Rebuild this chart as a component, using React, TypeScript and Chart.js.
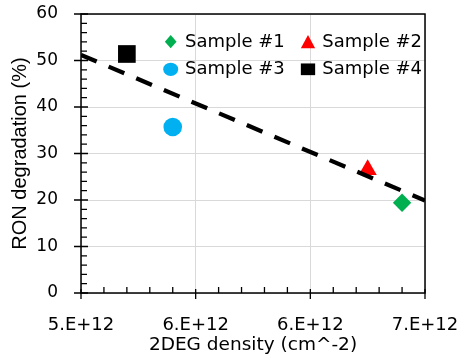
import React, { useEffect, useRef } from "react";
import { Chart, registerables } from "chart.js";

Chart.register(...registerables);

// ---- data ----
const sampleNames = ["Sample #1", "Sample #2", "Sample #3", "Sample #4"];
const sampleDensity = [6.4e12, 6.25e12, 5.4e12, 5.2e12];
const sampleRonDegradation = [19.4, 26.5, 35.7, 51.4];

const trendDensity = [5.0e12, 6.5e12];
const trendRonDegradation = [51.2, 19.9];

const xTickValues = [5.0e12, 5.5e12, 6.0e12, 6.5e12];
const xTickLabels = ["5.E+12", "6.E+12", "6.E+12", "7.E+12"];
const yTickValues = [0, 10, 20, 30, 40, 50, 60];

const xTitle = "2DEG density (cm^-2)";
const yTitle = "RON degradation (%)";

// ---- styles ----
const sampleColors = ["#00B050", "#FF0000", "#00B0F0", "#000000"];
const sampleShapes = ["rectRot", "triangle", "circle", "rect"];
const sampleRadius = [9.2, 10.5, 9.3, 12.5];
const legendMarkerSize = [
  [11.7, 13.3],
  [14.3, 13.3],
  [15, 13.3],
  [14.3, 11.7],
];

const W = 460;
const H = 364;
const AREA = { left: 81, top: 14, right: 425, bottom: 293 };
const FONT_MAIN = "'DejaVu Sans', sans-serif";

function drawShape(ctx: CanvasRenderingContext2D, shape: string, x: number, y: number, w: number, h: number) {
  ctx.beginPath();
  if (shape === "rectRot") {
    ctx.moveTo(x, y - h / 2);
    ctx.lineTo(x + w / 2, y);
    ctx.lineTo(x, y + h / 2);
    ctx.lineTo(x - w / 2, y);
  } else if (shape === "triangle") {
    ctx.moveTo(x, y - h / 2);
    ctx.lineTo(x + w / 2, y + h / 2);
    ctx.lineTo(x - w / 2, y + h / 2);
  } else if (shape === "circle") {
    ctx.ellipse(x, y, w / 2, h / 2, 0, 0, Math.PI * 2);
  } else {
    ctx.rect(x - w / 2, y - h / 2, w, h);
  }
  ctx.closePath();
  ctx.fill();
}

const framePlugin = {
  id: "frame",
  beforeDatasetsDraw(chart: any) {
    const { ctx, chartArea: a, scales } = chart;
    const x = scales.x;
    const y = scales.y;
    ctx.save();
    ctx.strokeStyle = "#000";
    ctx.lineWidth = 1.5;
    ctx.beginPath();
    ctx.rect(a.left, a.top, a.right - a.left, a.bottom - a.top);
    ctx.stroke();

    ctx.lineWidth = 1.3;
    ctx.beginPath();
    // y ticks: major every 10 (crossing), minor every 2 (inside)
    for (let i = 0; i <= 30; i++) {
      const py = y.getPixelForValue(i * 2);
      if (i % 5 === 0) {
        ctx.moveTo(a.left - 7, py);
        ctx.lineTo(a.left + 7, py);
      } else {
        ctx.moveTo(a.left, py);
        ctx.lineTo(a.left + 6, py);
      }
    }
    // x ticks: major every 0.5e12 (crossing), minor every 0.1e12 (inside)
    for (let i = 0; i <= 15; i++) {
      const px = x.getPixelForValue(5e12 + i * 1e11);
      if (i % 5 === 0) {
        ctx.moveTo(px, a.bottom - 4);
        ctx.lineTo(px, a.bottom + 6);
      } else {
        ctx.moveTo(px, a.bottom);
        ctx.lineTo(px, a.bottom - 6);
      }
    }
    ctx.stroke();
    ctx.restore();
  },
};

const legendPlugin = {
  id: "insideLegend",
  afterDatasetsDraw(chart: any) {
    const { ctx } = chart;
    const colX = [170.7, 308];
    const rowY = [41.7, 69.3];
    ctx.save();
    ctx.font = `18px ${FONT_MAIN}`;
    ctx.textBaseline = "middle";
    ctx.textAlign = "left";
    sampleNames.forEach((name, i) => {
      const cx = colX[i % 2];
      const cy = rowY[Math.floor(i / 2)];
      ctx.fillStyle = sampleColors[i];
      drawShape(ctx, sampleShapes[i], cx, cy, legendMarkerSize[i][0], legendMarkerSize[i][1]);
      ctx.fillStyle = "#000";
      ctx.fillText(name, cx + 14.3, cy + 0.5);
    });
    ctx.restore();
  },
};

export default function App() {
  const canvasRef = useRef<HTMLCanvasElement | null>(null);

  useEffect(() => {
    if (!canvasRef.current) return;
    const sampleDatasets = sampleNames.map((name, i) => ({
      type: "scatter" as const,
      label: name,
      data: [{ x: sampleDensity[i], y: sampleRonDegradation[i] }],
      pointStyle: sampleShapes[i],
      pointRadius: sampleRadius[i],
      pointBorderWidth: 0,
      backgroundColor: sampleColors[i],
      borderColor: sampleColors[i],
      order: 1,
    }));
    const trendDataset = {
      type: "scatter" as const,
      label: "Trend",
      data: trendDensity.map((d, i) => ({ x: d, y: trendRonDegradation[i] })),
      showLine: true,
      borderColor: "#000",
      borderWidth: 4.3,
      borderDash: [17, 13],
      borderCapStyle: "butt",
      pointRadius: 0,
      fill: false,
      order: 0,
    };

    const zeroPad = (s: any) => {
      s.paddingTop = 0;
      s.paddingBottom = 0;
      s.paddingLeft = 0;
      s.paddingRight = 0;
    };

    const chart = new Chart(canvasRef.current, {
      type: "scatter",
      data: { datasets: [trendDataset as any, ...sampleDatasets] },
      options: {
        animation: false,
        responsive: false,
        maintainAspectRatio: false,
        devicePixelRatio: 1,
        layout: { padding: { left: 0, top: AREA.top, right: W - AREA.right, bottom: 0 } },
        plugins: {
          legend: { display: false },
          tooltip: { enabled: false },
        },
        scales: {
          x: {
            type: "linear",
            min: xTickValues[0],
            max: xTickValues[xTickValues.length - 1],
            afterBuildTicks: (s: any) => {
              s.ticks = xTickValues.map((v) => ({ value: v }));
            },
            afterFit: (s: any) => {
              s.height = H - AREA.bottom;
              zeroPad(s);
            },
            grid: { color: "#d9d9d9", lineWidth: 1, drawTicks: false },
            border: { display: false },
            ticks: {
              callback: (_v: any, i: number) => xTickLabels[i],
              font: { family: FONT_MAIN, size: 18 },
              color: "#000",
              padding: 22,
              maxRotation: 0,
              autoSkip: false,
            },
            title: {
              display: true,
              text: xTitle,
              font: { family: FONT_MAIN, size: 18.5 },
              color: "#000",
              padding: { top: 0, bottom: 8 },
            },
          },
          y: {
            min: yTickValues[0],
            max: yTickValues[yTickValues.length - 1],
            afterBuildTicks: (s: any) => {
              s.ticks = yTickValues.map((v) => ({ value: v }));
            },
            afterFit: (s: any) => {
              s.width = AREA.left;
              zeroPad(s);
            },
            grid: { color: "#d9d9d9", lineWidth: 1, drawTicks: false },
            border: { display: false },
            ticks: {
              font: { family: FONT_MAIN, size: 17 },
              color: "#000",
              padding: 23,
            },
            title: {
              display: true,
              text: yTitle,
              font: { family: "'Liberation Sans', Arial, sans-serif", size: 20 },
              color: "#000",
              padding: { top: 8, bottom: 0 },
            },
          },
        },
      },
      plugins: [framePlugin, legendPlugin],
    });
    return () => chart.destroy();
  }, []);

  return (
    <div style={{ position: "fixed", left: 0, top: 0, width: W, height: H, background: "#fff" }}>
      <canvas ref={canvasRef} width={W} height={H} style={{ display: "block", width: W, height: H }} />
    </div>
  );
}
